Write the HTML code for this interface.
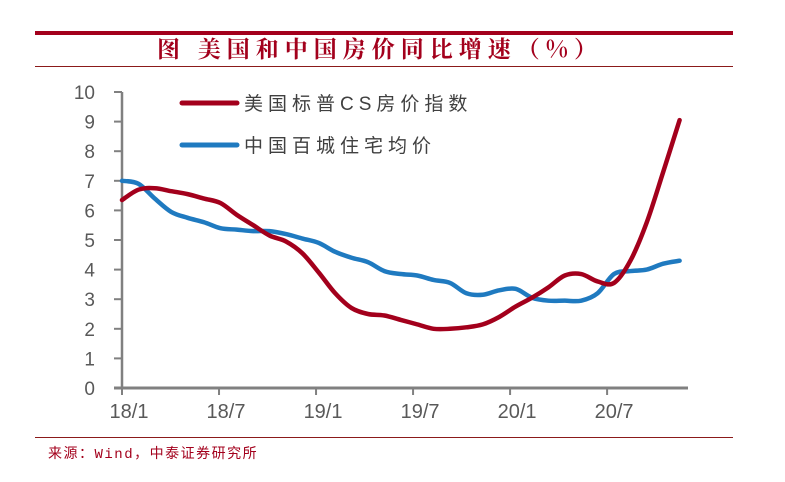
<!DOCTYPE html>
<html><head><meta charset="utf-8"><style>
body{margin:0;background:#fff;}
svg{display:block;font-family:"Liberation Sans","Noto Sans CJK SC",sans-serif;}
</style></head><body>
<svg width="785" height="482" viewBox="0 0 785 482">
<rect x="35" y="31" width="698" height="4" fill="#a3001c"/>
<text x="380" y="57" text-anchor="middle" font-size="23" font-weight="bold" letter-spacing="6" fill="#a3001c" font-family="'Noto Serif CJK SC','Noto Sans CJK SC',serif">图 美国和中国房价同比增速（%）</text>
<rect x="35" y="66" width="698" height="1" fill="#8b1a1a"/>
<rect x="35" y="437" width="698" height="1" fill="#8b1a1a"/>
<text x="48" y="458" font-size="14" letter-spacing="1.5" fill="#a3001c" font-family="'Liberation Mono','Noto Sans CJK SC',monospace">来源：Wind，中泰证券研究所</text>
<g id="axes"></g>
<g id="series"></g>
<line x1="182" y1="103" x2="237" y2="103" stroke="#a3001c" stroke-width="5" stroke-linecap="round"/>
<text x="244" y="110" font-size="19" letter-spacing="5" fill="#404040">美国标普CS房价指数</text>
<line x1="182" y1="145" x2="237" y2="145" stroke="#1f7ac0" stroke-width="5" stroke-linecap="round"/>
<text x="244" y="152" font-size="19" letter-spacing="5" fill="#404040">中国百城住宅均价</text>
</svg>
<script>
const yTicks=[0,1,2,3,4,5,6,7,8,9,10];
const xTickLabels=["18/1","18/7","19/1","19/7","20/1","20/7"];
const xTickIdx=[0,6,12,18,24,30];
const usValues=[6.35,6.7,6.75,6.65,6.55,6.4,6.25,5.85,5.5,5.15,4.95,4.55,3.9,3.2,2.7,2.5,2.45,2.3,2.15,2.0,2.0,2.05,2.15,2.4,2.75,3.05,3.4,3.8,3.85,3.6,3.55,4.3,5.6,7.3,9.05];
const cnValues=[7.0,6.9,6.4,5.95,5.75,5.6,5.4,5.35,5.3,5.3,5.2,5.05,4.9,4.6,4.4,4.25,3.95,3.85,3.8,3.65,3.55,3.2,3.15,3.3,3.35,3.05,2.95,2.95,2.95,3.2,3.85,3.95,4.0,4.2,4.3];
const NS="http://www.w3.org/2000/svg";
const x0=122,mStep=16.17,dStep=16.4,y0=388,yUnit=29.6;
const Y=v=>y0-v*yUnit;
const axes=document.getElementById('axes'),series=document.getElementById('series');
function mk(tag,attrs,parent){const e=document.createElementNS(NS,tag);for(const k in attrs)e.setAttribute(k,attrs[k]);parent.appendChild(e);return e;}
yTicks.forEach(v=>{
 const t=mk('line',{x1:114,x2:122,y1:Y(v),y2:Y(v),stroke:'#808080','stroke-width':2},axes);
 
 
 const l=mk('text',{x:95,y:Y(v)+7,'text-anchor':'end','font-size':19,fill:'#595959'},axes);
 l.textContent=v;
 
 
});
const ya=mk('line',{x1:122,x2:122,y1:Y(10),y2:y0+1,stroke:'#808080','stroke-width':2.5},axes);


const xa=mk('line',{x1:114,x2:688,y1:y0,y2:y0,stroke:'#808080','stroke-width':3},axes);


xTickIdx.forEach((idx,k)=>{
 const xx=x0+idx*mStep;
 const t=mk('line',{x1:xx,x2:xx,y1:y0,y2:y0+7,stroke:'#808080','stroke-width':2},axes);
 
 
 const l=mk('text',{x:xx+7,y:y0+30,'text-anchor':'middle','font-size':20,fill:'#595959'},axes);
 l.textContent=xTickLabels[k];
 
 
});
function line(vals,color,name){
 const pts=vals.map((v,i)=>[x0+i*dStep,Y(v)]);
 let d='M'+pts[0][0]+','+pts[0][1];
 for(let i=1;i<pts.length;i++){
  const p0=pts[i-2]||pts[i-1],p1=pts[i-1],p2=pts[i],p3=pts[i+1]||pts[i];
  const c1x=p1[0]+(p2[0]-p0[0])/6,c1y=p1[1]+(p2[1]-p0[1])/6,c2x=p2[0]-(p3[0]-p1[0])/6,c2y=p2[1]-(p3[1]-p1[1])/6;
  d+=` C${c1x},${c1y} ${c2x},${c2y} ${p2[0]},${p2[1]}`;
 }
 const p=mk('path',{d:d,fill:'none',stroke:color,'stroke-width':4.5,'stroke-linecap':'round','stroke-linejoin':'round'},series);
 
 
}
line(cnValues,'#1f7ac0','cn-line');
line(usValues,'#a3001c','us-line');
</script>
</body></html>
